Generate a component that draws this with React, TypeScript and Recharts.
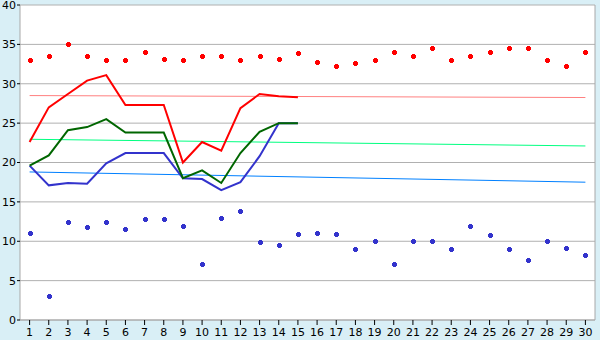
import { CartesianGrid, ComposedChart, Line, XAxis, YAxis } from "recharts";

const days = Array.from({ length: 30 }, (_, i) => String(i + 1));
const yTicks = [0, 5, 10, 15, 20, 25, 30, 35, 40];

// daily highs / lows (markers)
const highs = [
  33, 33.5, 35, 33.5, 33, 33, 34, 33.1, 33, 33.5, 33.5, 33, 33.5, 33.1, 33.9,
  32.7, 32.2, 32.6, 33, 34, 33.5, 34.6, 33, 33.5, 34, 34.5, 34.6, 33, 32.2, 34,
];
const lows = [
  11, 3, 12.5, 11.8, 12.5, 11.5, 12.8, 12.8, 12, 7.1, 13, 13.8, 9.9, 9.5, 10.9,
  11, 10.9, 9, 10, 7.1, 10, 10, 9, 12, 10.8, 9, 7.6, 10, 9.2, 8.2,
];

// measured lines (first 15 days)
const redLine = [22.6, 27, 28.7, 30.4, 31.1, 27.3, 27.3, 27.3, 20, 22.6, 21.5, 26.9, 28.7, 28.4, 28.3];
const greenLine = [19.6, 20.9, 24.1, 24.5, 25.5, 23.8, 23.8, 23.8, 18, 19, 17.4, 21.2, 23.9, 25, 25];
const blueLine = [19.6, 17.1, 17.4, 17.3, 19.9, 21.2, 21.2, 21.2, 18, 17.9, 16.5, 17.5, 20.8, 25, 25];

// trend lines: start and end values
const pinkTrend = [28.5, 28.25];
const mintTrend = [22.95, 22.1];
const skyTrend = [18.8, 17.5];

const data = days.map((d, i) => ({
  day: d,
  high: highs[i],
  low: lows[i],
  red: redLine[i] ?? null,
  green: greenLine[i] ?? null,
  blue: blueLine[i] ?? null,
  pink: i === 0 ? pinkTrend[0] : i === days.length - 1 ? pinkTrend[1] : null,
  mint: i === 0 ? mintTrend[0] : i === days.length - 1 ? mintTrend[1] : null,
  sky: i === 0 ? skyTrend[0] : i === days.length - 1 ? skyTrend[1] : null,
}));

const plus = (color: string) => (props: any) => {
  const { cx, cy, key } = props;
  if (cx == null || cy == null) return <g key={key} />;
  const x = Math.round(cx);
  const y = Math.round(cy);
  const d = `M${x - 1},${y - 2}h3v1h1v3h-1v1h-3v-1h-1v-3h1z`;
  return <path key={key} d={d} fill={color} stroke="none" shapeRendering="crispEdges" />;
};

const font = { fontFamily: "DejaVu Sans", fontSize: 11, fill: "#000" };

export default function App() {
  return (
    <div style={{ width: 600, height: 340, background: "#d9eff6" }}>
      <style>{`body{margin:0}`}</style>
      <ComposedChart width={600} height={340} data={data} margin={{ top: 5, right: 0, left: 0, bottom: 0 }}>
        <CartesianGrid vertical={false} stroke="#b0b0b0" fill="#fff" />
        <XAxis
          dataKey="day"
          padding={{ left: 9.6, right: 9.6 }}
          height={20}
          stroke="#a8a8a8"
          tickLine={{ stroke: "#000" }}
          tickSize={5}
          tickMargin={3}
          tick={font}
          interval={0}
        />
        <YAxis
          domain={[0, 40]}
          ticks={yTicks}
          width={20}
          stroke="#a8a8a8"
          tickLine={{ stroke: "#000" }}
          tickSize={3}
          tickMargin={1}
          tick={font}
          interval={0}
        />
        <YAxis yAxisId="r" orientation="right" width={5} stroke="#a8a8a8" tick={false} tickLine={false} />
        <Line dataKey="pink" stroke="#ff8080" strokeWidth={1} dot={false} connectNulls isAnimationActive={false} />
        <Line dataKey="mint" stroke="#00ff80" strokeWidth={1} dot={false} connectNulls isAnimationActive={false} />
        <Line dataKey="sky" stroke="#0080ff" strokeWidth={1} dot={false} connectNulls isAnimationActive={false} />
        <Line dataKey="blue" stroke="#3333cc" strokeWidth={2} dot={false} isAnimationActive={false} />
        <Line dataKey="green" stroke="#006600" strokeWidth={2} dot={false} isAnimationActive={false} />
        <Line dataKey="red" stroke="#ff0000" strokeWidth={2} dot={false} isAnimationActive={false} />
        <Line dataKey="high" stroke="none" dot={plus("#ff0000")} activeDot={false} isAnimationActive={false} />
        <Line dataKey="low" stroke="none" dot={plus("#3333cc")} activeDot={false} isAnimationActive={false} />
      </ComposedChart>
    </div>
  );
}
